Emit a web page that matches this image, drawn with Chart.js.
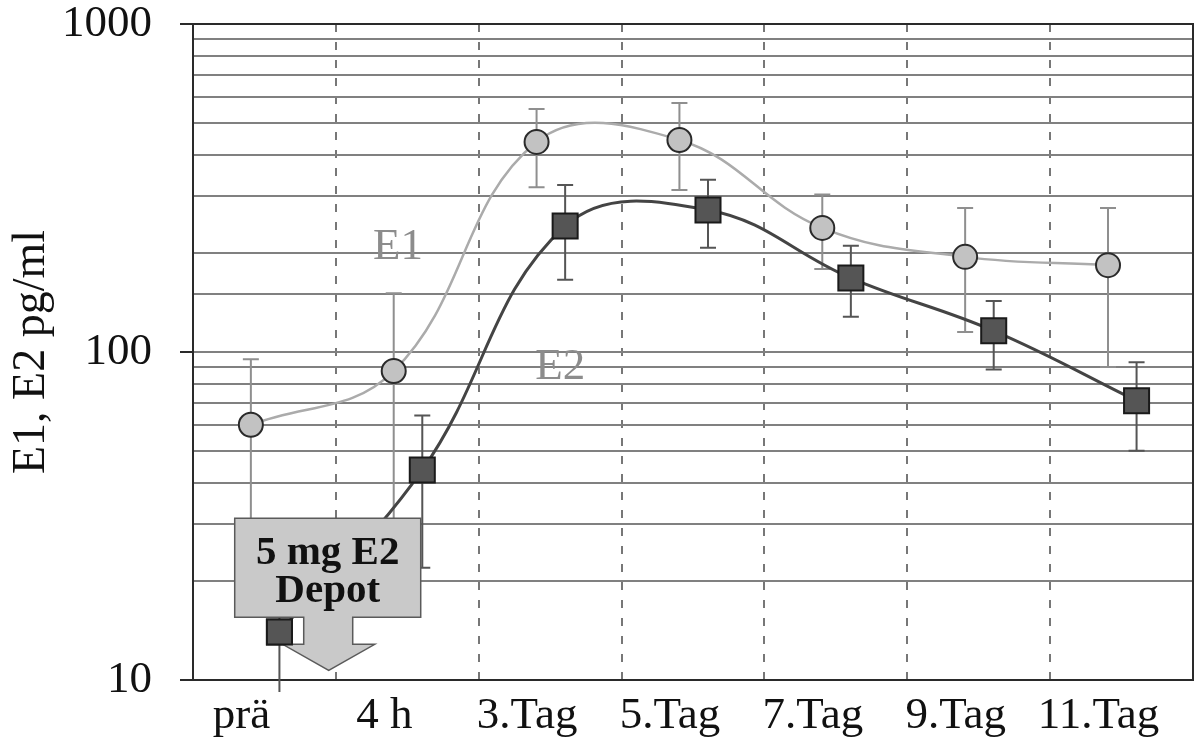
<!DOCTYPE html>
<html>
<head>
<meta charset="utf-8">
<title>E1 / E2 nach 5 mg E2 Depot</title>
<script src="https://cdn.jsdelivr.net/npm/chart.js@4/dist/chart.umd.min.js"></script>
<style>
  html, body { margin: 0; padding: 0; background: #fff; }
  canvas { display: block; }
</style>
</head>
<body>
<canvas id="chart" width="1197" height="742"></canvas>
<script>
/* ---------- DATA ---------- */
const categories = ["prä", "4 h", "3.Tag", "5.Tag", "7.Tag", "9.Tag", "11.Tag"];

const e1Mean  = [60, 87.5, 437, 443, 239, 195, 184];
const e1Upper = [95, 151, 551, 574, 302, 275, 275];
const e1Lower = [25, 24, 318, 312, 179, 115, 90];

const e2Mean  = [14, 43.7, 242, 271, 168, 116, 71];
const e2Upper = [19, 64, 323, 335, 211, 143, 93];
const e2Lower = [9.2, 22, 166, 208, 128, 88.5, 50];

const yLabels = [10, 100, 1000];

/* ---------- HELPERS ---------- */
const SERIF = "'Liberation Serif', 'Times New Roman', serif";
const E1_SHIFT = -0.095;   // markers sit a little left / right of the category centre
const E2_SHIFT = 0.105;

function isLabelled(v) {
    return yLabels.some(t => Math.abs(t - v) < 1e-6);
}

function toPoints(vals, shift) {
    return vals.map((v, i) => ({ x: i + shift, y: v }));
}

/* no automatic label padding: plot box is fixed by layout.padding */
function noPad(s) {
    s.paddingTop = 0;
    s.paddingBottom = 0;
    s.paddingLeft = 0;
    s.paddingRight = 0;
}

/* ---------- PLUGINS ---------- */
// frame + error bars, under the markers
const errorBars = {
    id: "errorBars",
    beforeDatasetsDraw(chart) {
        const { ctx, chartArea: a } = chart;
        const ys = chart.scales.y;

        ctx.save();
        ctx.strokeStyle = "#2a2a2a";
        ctx.lineWidth = 2;
        ctx.strokeRect(a.left, a.top, a.right - a.left, a.bottom - a.top);
        ctx.restore();

        chart.data.datasets.forEach((ds, i) => {
            if (!ds.errLow) return;
            const meta = chart.getDatasetMeta(i);
            ctx.save();
            ctx.strokeStyle = ds.errColor;
            ctx.lineWidth = 2;
            meta.data.forEach((pt, j) => {
                const yHi = ys.getPixelForValue(ds.errHigh[j]);
                const yLo = ys.getPixelForValue(ds.errLow[j]);
                ctx.beginPath();
                ctx.moveTo(pt.x, yHi);
                ctx.lineTo(pt.x, yLo);
                ctx.moveTo(pt.x - 8, yHi);
                ctx.lineTo(pt.x + 8, yHi);
                if (ds.errLow[j] >= ys.min) {
                    ctx.moveTo(pt.x - 8, yLo);
                    ctx.lineTo(pt.x + 8, yLo);
                }
                ctx.stroke();
            });
            ctx.restore();
        });
    }
};

// series names + the "5 mg E2 Depot" arrow box
const annotations = {
    id: "annotations",
    afterDatasetsDraw(chart) {
        const { ctx } = chart;
        const xs = chart.scales.xl, ys = chart.scales.y;

        ctx.save();
        ctx.fillStyle = "#8c8c8c";
        ctx.font = "45px " + SERIF;
        ctx.textAlign = "center";
        ctx.textBaseline = "middle";
        ctx.fillText("E1", xs.getPixelForValue(0.935), ys.getPixelForValue(209));
        ctx.fillText("E2", xs.getPixelForValue(2.07), ys.getPixelForValue(90));
        ctx.restore();

        // arrow tip
        const tx = xs.getPixelForValue(0.45);
        const ty = ys.getPixelForValue(10.7);
        const L = tx - 94, R = tx + 92, T = ty - 152, B = ty - 53;
        const sL = tx - 25, sR = tx + 24, hY = ty - 26, hL = tx - 46, hR = tx + 46;

        ctx.save();
        ctx.beginPath();
        ctx.moveTo(L, T);
        ctx.lineTo(R, T);
        ctx.lineTo(R, B);
        ctx.lineTo(sR, B);
        ctx.lineTo(sR, hY);
        ctx.lineTo(hR, hY);
        ctx.lineTo(tx, ty);
        ctx.lineTo(hL, hY);
        ctx.lineTo(sL, hY);
        ctx.lineTo(sL, B);
        ctx.lineTo(L, B);
        ctx.closePath();
        ctx.fillStyle = "#c9c9c9";
        ctx.fill();
        ctx.strokeStyle = "#5a5a5a";
        ctx.lineWidth = 1.5;
        ctx.stroke();

        ctx.fillStyle = "#111";
        ctx.font = "bold 41px " + SERIF;
        ctx.textAlign = "center";
        ctx.textBaseline = "middle";
        ctx.fillText("5 mg E2", (L + R) / 2, ty - 117);
        ctx.fillText("Depot", (L + R) / 2, ty - 79);
        ctx.restore();

        // first E2 square sits on top of the arrow
        chart.getDatasetMeta(1).data[0].draw(ctx, chart.chartArea);
    }
};

/* ---------- CHART ---------- */
new Chart(document.getElementById("chart"), {
    type: "line",
    data: {
        labels: categories,
        datasets: [
            {
                label: "E1",
                data: toPoints(e1Mean, E1_SHIFT),
                xAxisID: "xl",
                borderColor: "#ababab",
                borderWidth: 2.5,
                tension: 0.4,
                pointStyle: "circle",
                pointRadius: 12,
                pointBackgroundColor: "#c2c2c2",
                pointBorderColor: "#2a2a2a",
                pointBorderWidth: 2,
                errLow: e1Lower,
                errHigh: e1Upper,
                errColor: "#8f8f8f"
            },
            {
                label: "E2",
                data: toPoints(e2Mean, E2_SHIFT),
                xAxisID: "xl",
                borderColor: "#444",
                borderWidth: 3,
                tension: 0.4,
                pointStyle: "rect",
                pointRadius: 17.7,
                pointBackgroundColor: "#555",
                pointBorderColor: "#1a1a1a",
                pointBorderWidth: 2,
                errLow: e2Lower,
                errHigh: e2Upper,
                errColor: "#555"
            }
        ]
    },
    options: {
        responsive: false,
        animation: false,
        events: [],
        layout: { autoPadding: false, padding: { top: 24, right: 4, left: 0, bottom: 0 } },
        plugins: {
            legend: { display: false },
            tooltip: { enabled: false }
        },
        scales: {
            x: {
                type: "category",
                position: "bottom",
                offset: true,
                grid: { offset: true, drawTicks: false, color: "#777", lineWidth: 2 },
                border: { display: true, color: "#2a2a2a", width: 2, dash: [8, 10] },
                ticks: {
                    color: "#111",
                    font: { family: SERIF, size: 45 },
                    padding: 9,
                    labelOffset: -23,
                    autoSkip: false,
                    maxRotation: 0
                },
                afterFit: s => { s.height = 62; noPad(s); }
            },
            xl: { type: "linear", min: -0.5, max: 6.5, display: false, afterFit: noPad },
            y: {
                type: "logarithmic",
                min: 10,
                max: 1000,
                grid: {
                    color: "#808080",
                    lineWidth: 2,
                    tickLength: 13,
                    tickWidth: 2,
                    tickColor: c => isLabelled(c.tick.value) ? "#2a2a2a" : "rgba(0,0,0,0)"
                },
                border: { color: "#2a2a2a", width: 2 },
                ticks: {
                    autoSkip: false,
                    color: "#111",
                    font: { family: SERIF, size: 45, lineHeight: 1 },
                    padding: 28,
                    callback: v => isLabelled(v) ? String(v) : ""
                },
                title: {
                    display: true,
                    text: "E1, E2 pg/ml",
                    color: "#111",
                    font: { family: SERIF, size: 46 },
                    padding: { top: 4, bottom: 0 }
                },
                afterFit: s => { s.width = 193; noPad(s); }
            }
        }
    },
    plugins: [errorBars, annotations]
});
</script>
</body>
</html>
